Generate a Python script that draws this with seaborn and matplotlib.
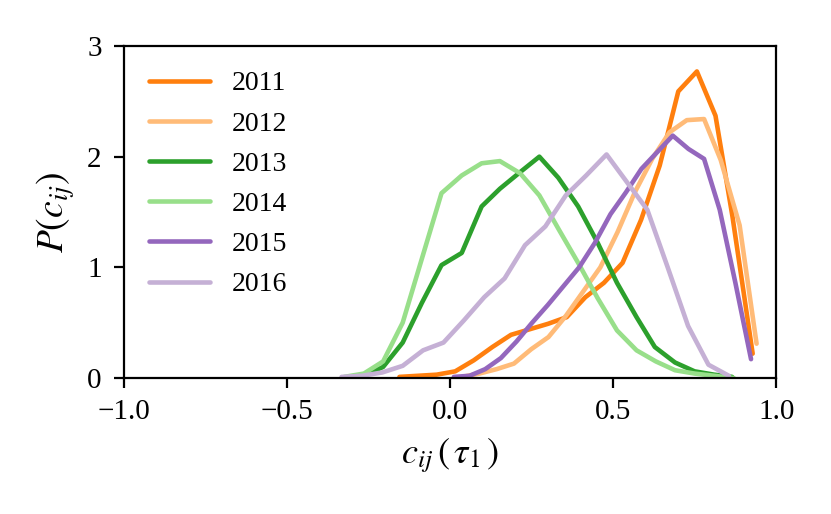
import pandas as pd
import matplotlib
matplotlib.use("Agg")
import matplotlib.pyplot as plt
import seaborn as sns

# histogram outlines, one per year
x_2011 = [-0.155, -0.098, -0.041, 0.016, 0.073, 0.13, 0.187, 0.244, 0.301, 0.358,
          0.415, 0.472, 0.529, 0.586, 0.643, 0.70, 0.757, 0.814, 0.866, 0.928]
p_2011 = [0.01, 0.02, 0.03, 0.06, 0.16, 0.28, 0.39, 0.44, 0.49, 0.55,
          0.73, 0.86, 1.04, 1.43, 1.92, 2.59, 2.77, 2.37, 1.46, 0.22]

x_2012 = [0.037, 0.09, 0.143, 0.196, 0.249, 0.302, 0.355, 0.408, 0.461, 0.514,
          0.567, 0.62, 0.673, 0.726, 0.779, 0.830, 0.888, 0.940]
p_2012 = [0.01, 0.04, 0.08, 0.13, 0.26, 0.37, 0.56, 0.78, 1.00, 1.32,
          1.68, 1.98, 2.22, 2.33, 2.34, 1.97, 1.38, 0.31]

x_2013 = [-0.264, -0.205, -0.145, -0.086, -0.026, 0.036, 0.097, 0.153, 0.215, 0.274,
          0.332, 0.393, 0.453, 0.512, 0.572, 0.628, 0.69, 0.75, 0.81, 0.865]
p_2013 = [0.02, 0.10, 0.32, 0.68, 1.02, 1.13, 1.55, 1.71, 1.86, 2.00,
          1.81, 1.55, 1.22, 0.86, 0.55, 0.28, 0.14, 0.06, 0.03, 0.01]

x_2014 = [-0.324, -0.264, -0.205, -0.145, -0.086, -0.026, 0.036, 0.097, 0.153, 0.215,
          0.274, 0.334, 0.393, 0.453, 0.512, 0.572, 0.631, 0.69, 0.75, 0.81, 0.87]
p_2014 = [0.01, 0.04, 0.15, 0.50, 1.08, 1.67, 1.83, 1.94, 1.96, 1.85,
          1.65, 1.34, 1.04, 0.72, 0.43, 0.25, 0.15, 0.07, 0.04, 0.02, 0.0]

x_2015 = [0.012, 0.06, 0.108, 0.156, 0.204, 0.252, 0.30, 0.348, 0.396, 0.444,
          0.492, 0.54, 0.587, 0.635, 0.683, 0.731, 0.779, 0.827, 0.875, 0.923]
p_2015 = [0.01, 0.02, 0.08, 0.18, 0.33, 0.50, 0.66, 0.83, 1.00, 1.22,
          1.48, 1.68, 1.89, 2.04, 2.19, 2.07, 1.98, 1.52, 0.86, 0.17]

x_2016 = [-0.3325, -0.27, -0.2075, -0.145, -0.0825, -0.02, 0.0425, 0.105, 0.1675, 0.23,
          0.2925, 0.355, 0.4175, 0.48, 0.5425, 0.605, 0.6675, 0.73, 0.7925, 0.855]
p_2016 = [0.01, 0.02, 0.05, 0.11, 0.25, 0.32, 0.52, 0.73, 0.90, 1.20,
          1.37, 1.65, 1.83, 2.02, 1.77, 1.52, 1.00, 0.47, 0.12, 0.02]

years = ["2011", "2012", "2013", "2014", "2015", "2016"]
xs = [x_2011, x_2012, x_2013, x_2014, x_2015, x_2016]
ps = [p_2011, p_2012, p_2013, p_2014, p_2015, p_2016]
colors = ["#ff7f0e", "#ffbb78", "#2ca02c", "#98df8a", "#9467bd", "#c5b0d5"]

rows = []
for yr, xv, pv in zip(years, xs, ps):
    for a, b in zip(xv, pv):
        rows.append({"c": a, "p": b, "year": yr})
df = pd.DataFrame(rows)

sns.set_style("ticks")
plt.rcParams["font.family"] = "serif"
plt.rcParams["font.serif"] = ["Liberation Serif", "Times New Roman", "DejaVu Serif"]
plt.rcParams["mathtext.fontset"] = "stix"
plt.rcParams["axes.linewidth"] = 1.6
plt.rcParams["text.color"] = "black"
plt.rcParams["axes.labelcolor"] = "black"
plt.rcParams["xtick.color"] = "black"
plt.rcParams["ytick.color"] = "black"
plt.rcParams["axes.edgecolor"] = "black"

fig = plt.figure(figsize=(8.31, 5.14), dpi=100)
ax = fig.add_axes([0.149, 0.2646, 0.785, 0.6459])

sns.lineplot(data=df, x="c", y="p", hue="year", hue_order=years,
             palette=dict(zip(years, colors)), linewidth=3.3, ax=ax)

ax.set_xlim(-1, 1)
ax.set_ylim(0, 3)
ax.set_xticks([-1.0, -0.5, 0.0, 0.5, 1.0])
ax.set_xticklabels(["\u22121.0", "\u22120.5", "0.0", "0.5", "1.0"])
ax.set_yticks([0, 1, 2, 3])
ax.tick_params(labelsize=21, width=1.6, length=7)
ax.tick_params(axis="y", pad=9)
ax.tick_params(axis="x", pad=8)
ax.set_xlabel(r"$c_{ij}\,(\,\tau_1\,)$", fontsize=26, labelpad=8)
ax.set_ylabel(r"$P(c_{ij})$", fontsize=27, labelpad=7)

leg = ax.legend(loc="upper left", frameon=False, fontsize=20,
                handlelength=2.2, handletextpad=0.8, labelspacing=0.53,
                borderaxespad=0.5)
for line in leg.get_lines():
    line.set_linewidth(3.3)

fig.savefig("out.png", dpi=100)
